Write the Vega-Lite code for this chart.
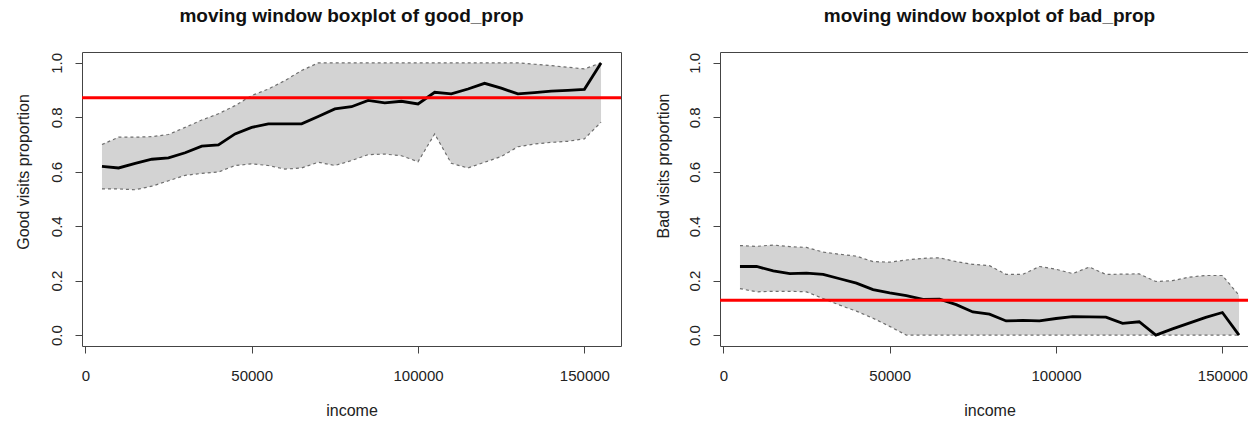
{
  "$schema": "https://vega.github.io/schema/vega-lite/v6.json",
  "background": "white",
  "padding": {"left": 14, "top": 6, "right": 0, "bottom": 0},
  "spacing": 99,
  "bounds": "flush",
  "config": {
    "font": "Liberation Sans",
    "view": {"stroke": "#444", "strokeWidth": 1},
    "axis": {"grid": false, "domain": false, "tickColor": "#444", "tickSize": 7, "labelFont": "Liberation Sans", "labelFontSize": 15, "labelColor": "#222", "titleFont": "Liberation Sans", "titleFontSize": 16, "titleFontWeight": "normal", "titleColor": "#222", "labelOverlap": false, "labelFlush": false},
    "title": {"font": "Liberation Sans", "fontSize": 19, "fontWeight": "bold", "color": "#111", "anchor": "middle", "offset": 26.5}
  },
  "datasets": {
    "good": [
      {"income": 5000, "lo": 0.537, "med": 0.620, "hi": 0.700},
      {"income": 10000, "lo": 0.537, "med": 0.614, "hi": 0.727},
      {"income": 15000, "lo": 0.534, "med": 0.631, "hi": 0.727},
      {"income": 20000, "lo": 0.547, "med": 0.646, "hi": 0.729},
      {"income": 25000, "lo": 0.567, "med": 0.651, "hi": 0.737},
      {"income": 30000, "lo": 0.587, "med": 0.670, "hi": 0.763},
      {"income": 35000, "lo": 0.594, "med": 0.694, "hi": 0.790},
      {"income": 40000, "lo": 0.599, "med": 0.699, "hi": 0.813},
      {"income": 45000, "lo": 0.623, "med": 0.739, "hi": 0.843},
      {"income": 50000, "lo": 0.629, "med": 0.763, "hi": 0.880},
      {"income": 55000, "lo": 0.623, "med": 0.776, "hi": 0.904},
      {"income": 60000, "lo": 0.610, "med": 0.776, "hi": 0.935},
      {"income": 65000, "lo": 0.614, "med": 0.776, "hi": 0.972},
      {"income": 70000, "lo": 0.635, "med": 0.803, "hi": 1.0},
      {"income": 75000, "lo": 0.623, "med": 0.831, "hi": 1.0},
      {"income": 80000, "lo": 0.641, "med": 0.839, "hi": 1.0},
      {"income": 85000, "lo": 0.663, "med": 0.862, "hi": 1.0},
      {"income": 90000, "lo": 0.665, "med": 0.853, "hi": 1.0},
      {"income": 95000, "lo": 0.659, "med": 0.859, "hi": 1.0},
      {"income": 100000, "lo": 0.637, "med": 0.849, "hi": 1.0},
      {"income": 105000, "lo": 0.739, "med": 0.892, "hi": 1.0},
      {"income": 110000, "lo": 0.631, "med": 0.886, "hi": 1.0},
      {"income": 115000, "lo": 0.614, "med": 0.904, "hi": 1.0},
      {"income": 120000, "lo": 0.635, "med": 0.925, "hi": 1.0},
      {"income": 125000, "lo": 0.656, "med": 0.907, "hi": 1.0},
      {"income": 130000, "lo": 0.692, "med": 0.886, "hi": 1.0},
      {"income": 135000, "lo": 0.702, "med": 0.891, "hi": 0.995},
      {"income": 140000, "lo": 0.708, "med": 0.896, "hi": 0.99},
      {"income": 145000, "lo": 0.712, "med": 0.899, "hi": 0.984},
      {"income": 150000, "lo": 0.721, "med": 0.903, "hi": 0.978},
      {"income": 155000, "lo": 0.782, "med": 1.0, "hi": 1.0}
    ],
    "bad": [
      {"income": 5000, "lo": 0.171, "med": 0.252, "hi": 0.329},
      {"income": 10000, "lo": 0.159, "med": 0.252, "hi": 0.326},
      {"income": 15000, "lo": 0.161, "med": 0.236, "hi": 0.331},
      {"income": 20000, "lo": 0.161, "med": 0.226, "hi": 0.325},
      {"income": 25000, "lo": 0.159, "med": 0.228, "hi": 0.322},
      {"income": 30000, "lo": 0.134, "med": 0.223, "hi": 0.305},
      {"income": 35000, "lo": 0.110, "med": 0.207, "hi": 0.297},
      {"income": 40000, "lo": 0.088, "med": 0.191, "hi": 0.290},
      {"income": 45000, "lo": 0.062, "med": 0.167, "hi": 0.270},
      {"income": 50000, "lo": 0.032, "med": 0.155, "hi": 0.268},
      {"income": 55000, "lo": 0.0, "med": 0.145, "hi": 0.276},
      {"income": 60000, "lo": 0.0, "med": 0.131, "hi": 0.282},
      {"income": 65000, "lo": 0.0, "med": 0.132, "hi": 0.284},
      {"income": 70000, "lo": 0.0, "med": 0.112, "hi": 0.270},
      {"income": 75000, "lo": 0.0, "med": 0.085, "hi": 0.260},
      {"income": 80000, "lo": 0.0, "med": 0.077, "hi": 0.255},
      {"income": 85000, "lo": 0.0, "med": 0.052, "hi": 0.223},
      {"income": 90000, "lo": 0.0, "med": 0.054, "hi": 0.223},
      {"income": 95000, "lo": 0.0, "med": 0.052, "hi": 0.252},
      {"income": 100000, "lo": 0.0, "med": 0.061, "hi": 0.242},
      {"income": 105000, "lo": 0.0, "med": 0.068, "hi": 0.226},
      {"income": 110000, "lo": 0.0, "med": 0.067, "hi": 0.250},
      {"income": 115000, "lo": 0.0, "med": 0.066, "hi": 0.223},
      {"income": 120000, "lo": 0.0, "med": 0.043, "hi": 0.224},
      {"income": 125000, "lo": 0.0, "med": 0.049, "hi": 0.225},
      {"income": 130000, "lo": 0.0, "med": 0.0, "hi": 0.197},
      {"income": 135000, "lo": 0.0, "med": 0.023, "hi": 0.200},
      {"income": 140000, "lo": 0.0, "med": 0.044, "hi": 0.213},
      {"income": 145000, "lo": 0.0, "med": 0.065, "hi": 0.219},
      {"income": 150000, "lo": 0.0, "med": 0.083, "hi": 0.219},
      {"income": 155000, "lo": 0.0, "med": 0.0, "hi": 0.146}
    ]
  },
  "hconcat": [
    {
      "title": "moving window boxplot of good_prop",
      "width": 539,
      "height": 294,
      "data": {"name": "good"},
      "layer": [
        {
          "mark": {"type": "area", "color": "#d3d3d3", "opacity": 1},
          "encoding": {
            "x": {"field": "income", "type": "quantitative", "title": "income", "scale": {"domain": [-1000, 161000], "nice": false, "zero": false}, "axis": {"values": [0, 50000, 100000, 150000], "format": "d", "labelPadding": 15, "titlePadding": 19.5}},
            "y": {"field": "lo", "type": "quantitative", "title": "Good visits proportion", "scale": {"domain": [-0.04, 1.04], "nice": false, "zero": false}, "axis": {"values": [0, 0.2, 0.4, 0.6, 0.8, 1], "format": ".1f", "labelAngle": 270, "labelAlign": "center", "labelBaseline": "bottom", "labelPadding": 11, "titleAngle": 270, "titleAlign": "center", "titleBaseline": "middle", "titleX": -59, "titleY": 119.5}},
            "y2": {"field": "hi"}
          }
        },
        {
          "mark": {"type": "line", "color": "#6e6e6e", "strokeWidth": 1.2, "strokeDash": [3, 3]},
          "encoding": {
            "x": {"field": "income", "type": "quantitative", "title": "income"},
            "y": {"field": "hi", "type": "quantitative", "title": "Good visits proportion"}
          }
        },
        {
          "mark": {"type": "line", "color": "#6e6e6e", "strokeWidth": 1.2, "strokeDash": [3, 3]},
          "encoding": {
            "x": {"field": "income", "type": "quantitative", "title": "income"},
            "y": {"field": "lo", "type": "quantitative", "title": "Good visits proportion"}
          }
        },
        {
          "mark": {"type": "line", "color": "#000000", "strokeWidth": 2.8},
          "encoding": {
            "x": {"field": "income", "type": "quantitative", "title": "income"},
            "y": {"field": "med", "type": "quantitative", "title": "Good visits proportion"}
          }
        },
        {
          "data": {"values": [{"ref": 0.872}]},
          "mark": {"type": "rule", "color": "#ff0000", "strokeWidth": 3},
          "encoding": {
            "y": {"field": "ref", "type": "quantitative", "title": "Good visits proportion"}
          }
        }
      ]
    },
    {
      "title": "moving window boxplot of bad_prop",
      "width": 539,
      "height": 294,
      "data": {"name": "bad"},
      "layer": [
        {
          "mark": {"type": "area", "color": "#d3d3d3", "opacity": 1},
          "encoding": {
            "x": {"field": "income", "type": "quantitative", "title": "income", "scale": {"domain": [-1000, 161000], "nice": false, "zero": false}, "axis": {"values": [0, 50000, 100000, 150000], "format": "d", "labelPadding": 15, "titlePadding": 19.5}},
            "y": {"field": "lo", "type": "quantitative", "title": "Bad visits proportion", "scale": {"domain": [-0.04, 1.04], "nice": false, "zero": false}, "axis": {"values": [0, 0.2, 0.4, 0.6, 0.8, 1], "format": ".1f", "labelAngle": 270, "labelAlign": "center", "labelBaseline": "bottom", "labelPadding": 11, "titleAngle": 270, "titleAlign": "center", "titleBaseline": "middle", "titleX": -57, "titleY": 113.5}},
            "y2": {"field": "hi"}
          }
        },
        {
          "mark": {"type": "line", "color": "#6e6e6e", "strokeWidth": 1.2, "strokeDash": [3, 3]},
          "encoding": {
            "x": {"field": "income", "type": "quantitative", "title": "income"},
            "y": {"field": "hi", "type": "quantitative", "title": "Bad visits proportion"}
          }
        },
        {
          "mark": {"type": "line", "color": "#6e6e6e", "strokeWidth": 1.2, "strokeDash": [3, 3]},
          "encoding": {
            "x": {"field": "income", "type": "quantitative", "title": "income"},
            "y": {"field": "lo", "type": "quantitative", "title": "Bad visits proportion"}
          }
        },
        {
          "mark": {"type": "line", "color": "#000000", "strokeWidth": 2.8},
          "encoding": {
            "x": {"field": "income", "type": "quantitative", "title": "income"},
            "y": {"field": "med", "type": "quantitative", "title": "Bad visits proportion"}
          }
        },
        {
          "data": {"values": [{"ref": 0.128}]},
          "mark": {"type": "rule", "color": "#ff0000", "strokeWidth": 3},
          "encoding": {
            "y": {"field": "ref", "type": "quantitative", "title": "Bad visits proportion"}
          }
        }
      ]
    }
  ]
}
